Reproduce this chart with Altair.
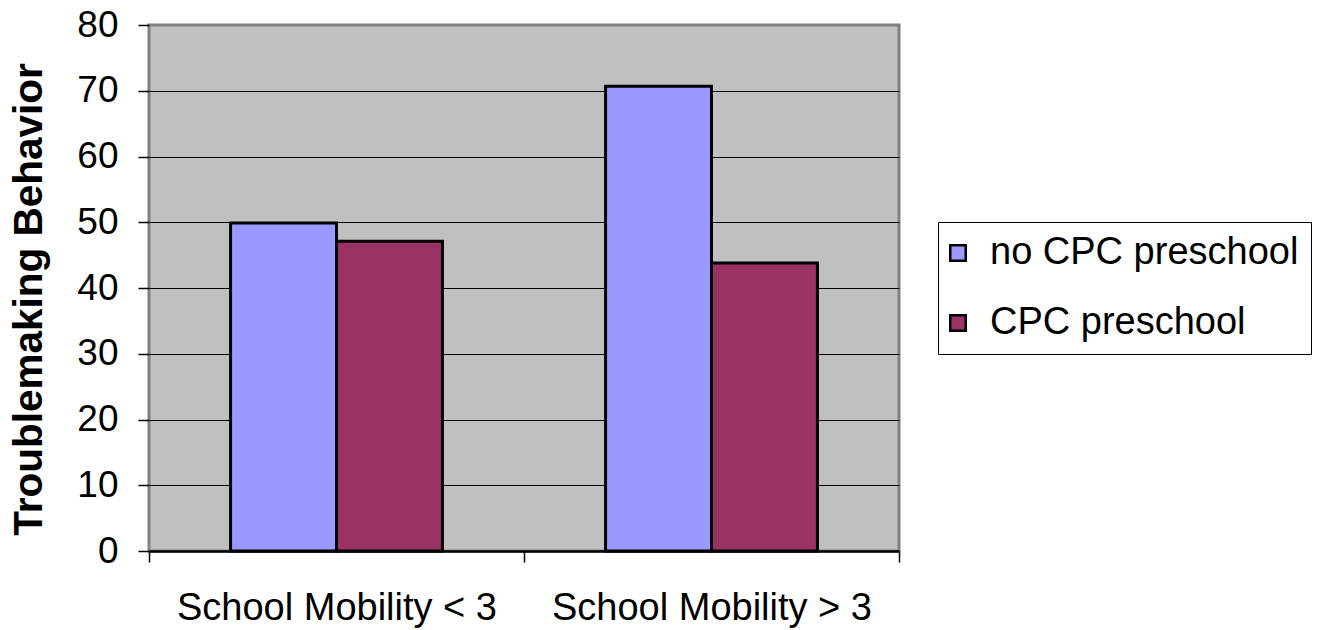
import altair as alt
import pandas as pd

categories = ["School Mobility < 3", "School Mobility > 3"]
series = ["no CPC preschool", "CPC preschool"]
no_cpc = [49.9, 70.7]
cpc = [47.1, 43.8]
colors = ["#9999FF", "#993366"]
y_ticks = [0, 10, 20, 30, 40, 50, 60, 70, 80]

rows = []
for i, c in enumerate(categories):
    rows.append({"cat": c, "series": series[0], "value": no_cpc[i]})
    rows.append({"cat": c, "series": series[1], "value": cpc[i]})
df = pd.DataFrame(rows)

FONT = "Liberation Sans"

chart = alt.Chart(df).mark_bar(stroke="black", strokeWidth=3).encode(
    x=alt.X(
        "cat:N",
        sort=categories,
        scale=alt.Scale(paddingInner=0, paddingOuter=0),
        axis=alt.Axis(
            title=None,
            labelAngle=0,
            labelFontSize=38,
            labelFont=FONT,
            labelColor="black",
            labelPadding=27,
            labelLimit=600,
            tickBand="extent",
            tickColor="black",
            tickSize=11,
            tickWidth=1.5,
            domainColor="black",
            domainWidth=2.5,
            grid=False,
        ),
    ),
    xOffset=alt.XOffset("series:N", sort=series, scale=alt.Scale(paddingOuter=0.77, paddingInner=0)),
    y=alt.Y(
        "value:Q",
        scale=alt.Scale(domain=[0, 80], nice=False),
        axis=alt.Axis(
            title="Troublemaking Behavior",
            titleFont=FONT,
            titleFontSize=40.5,
            titleFontWeight="bold",
            titleColor="black",
            titleAngle=270,
            titleX=-108,
            titleY=274,
            titleAlign="center",
            titleBaseline="alphabetic",
            values=y_ticks,
            labelFontSize=37,
            labelFont=FONT,
            labelColor="black",
            labelPadding=20,
            tickColor="black",
            tickSize=11,
            tickWidth=1.5,
            domain=False,
            grid=True,
            gridColor={"condition": {"test": "datum.value === 80", "value": "#808080"}, "value": "black"},
            gridWidth=1,
            gridOpacity=1,
        ),
    ),
    color=alt.Color(
        "series:N",
        sort=series,
        scale=alt.Scale(domain=series, range=colors),
        legend=alt.Legend(
            title=None,
            orient="none",
            legendX=789,
            legendY=197,
            labelFont=FONT,
            labelFontSize=38,
            labelColor="black",
            labelLimit=500,
            labelOffset=13,
            symbolType="square",
            symbolSize=240,
            symbolOffset=-11,
            symbolStrokeColor="black",
            symbolStrokeWidth=2.5,
            symbolOpacity=1,
            strokeColor="black",
            fillColor="white",
            padding=12,
            rowPadding=32,
        ),
    ),
).properties(
    width=750,
    height=526,
    background="white",
    autosize=alt.AutoSizeParams(type="none"),
    padding={"left": 149, "top": 25, "right": 418, "bottom": 79},
).configure_view(
    fill="#C0C0C0",
    stroke="#808080",
    strokeWidth=3,
)

chart.save("out.html", embed_options={"renderer": "svg", "actions": False})
